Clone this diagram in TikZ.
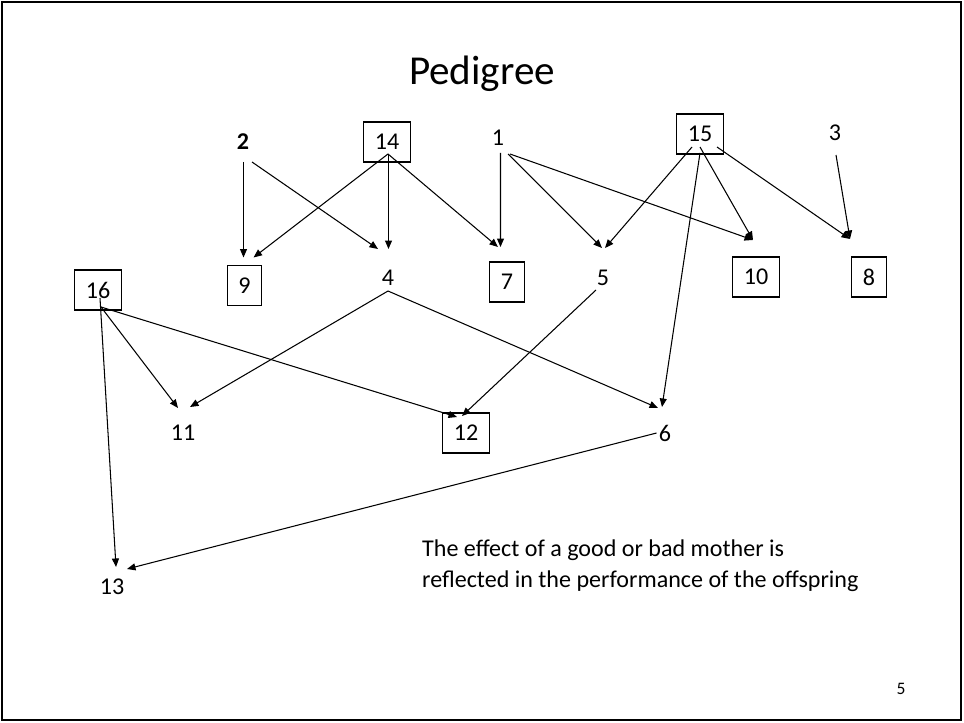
\documentclass[tikz,border=0pt]{standalone}
\usepackage{fontspec}
\setmainfont{Carlito}
\usetikzlibrary{arrows.meta,calc}

\begin{document}
\begin{tikzpicture}[x=0.02cm,y=-0.02cm,font=\fontsize{13.7}{16}\selectfont,
 num/.style={inner sep=0.04cm},
 box/.style={draw,line width=0.6pt,minimum height=0.8cm,%
   inner xsep=0.22cm,inner ysep=0pt},
 arr/.style={-{Triangle[length=0.17cm,width=0.14cm]},line width=0.6pt}]
\useasboundingbox (0,0) rectangle (964,723);
\draw[line width=0.05cm] (2,2) rectangle (961,720);
\node[font=\fontsize{23.4}{28}\selectfont,anchor=base] (title) at (482,85) {Pedigree};
% parents
\node[num] (n2) at (243,142) {\textbf{2}};
\node[box] (n14) at (387,142) {14};
\node[num] (n1) at (498,138) {1};
\node[box] (n15) at (700,134) {15};
\node[num] (n3) at (835,133) {3};
% second row
\node[box] (n9) at (244.5,285.5) {9};
\node[num] (n4) at (388,278) {4};
\node[box] (n7) at (507,282) {7};
\node[num] (n5) at (603,278) {5};
\node[box] (n10) at (756,277) {10};
\node[box] (n8) at (869,277) {8};
\node[box] (n16) at (98,290) {16};
% offspring
\node[num] (n11) at (183,433) {11};
\node[box] (n12) at (466,433) {12};
\node[num] (n6) at (665,433) {6};
\node[num] (n13) at (112,587) {13};
\node[anchor=west,align=left,font=\fontsize{13.7}{17.6}\selectfont] (note) at (416,566)
  {The effect of a good or bad mother is\\reflected in the performance of the offspring};
\node[font=\fontsize{10}{12}\selectfont] (page) at (901,689) {5};
% matings
\draw[arr] ($(n2)+(0.5,20)$) -- ($(n9)+(-1,-28)$);
\draw[arr] ($(n2)+(9,20)$) -- ($(n4)+(-10,-29)$);
\draw[arr] ($(n14)+(1,12)$) -- ($(n9)+(9,-28)$);
\draw[arr] ($(n14)+(1.5,12)$) -- ($(n4)+(0.5,-29)$);
\draw[arr] ($(n14)+(1,12)$) -- ($(n7)+(-9,-35)$);
\draw[arr] ($(n1)+(2.5,15)$) -- ($(n7)+(-6.5,-35)$);
\draw[arr] ($(n1)+(10,16)$) -- ($(n5)+(-1,-30)$);
\draw[arr] ($(n1)+(12,16)$) -- ($(n10)+(-3,-37)$);
\draw[arr] ($(n15)+(-8,13)$) -- ($(n5)+(2,-30)$);
\draw[arr] ($(n15)+(0,13)$) -- ($(n10)+(-3,-37)$);
\draw[arr] ($(n15)+(0,19)$) -- ($(n6)+(-3,-26)$);
\draw[arr] ($(n15)+(17,13)$) -- ($(n8)+(-19,-38)$);
\draw[arr] ($(n3)+(1,22)$) -- ($(n8)+(-19,-38)$);
\draw[arr] ($(n16)+(2,8)$) -- ($(n13)+(4,-20)$);
\draw[arr] ($(n16)+(3,17)$) -- ($(n11)+(-5,-25)$);
\draw[arr] ($(n16)+(3,17)$) -- ($(n12)+(-9,-16)$);
\draw[arr] ($(n4)+(0,13)$) -- ($(n11)+(7,-26)$);
\draw[arr] ($(n4)+(0,13)$) -- ($(n6)+(-7,-25)$);
\draw[arr] ($(n5)+(-7,12)$) -- ($(n12)+(-4,-17)$);
\draw[arr] (n6.west) -- ($(n13)+(15,-18)$);
\end{tikzpicture}
\end{document}
